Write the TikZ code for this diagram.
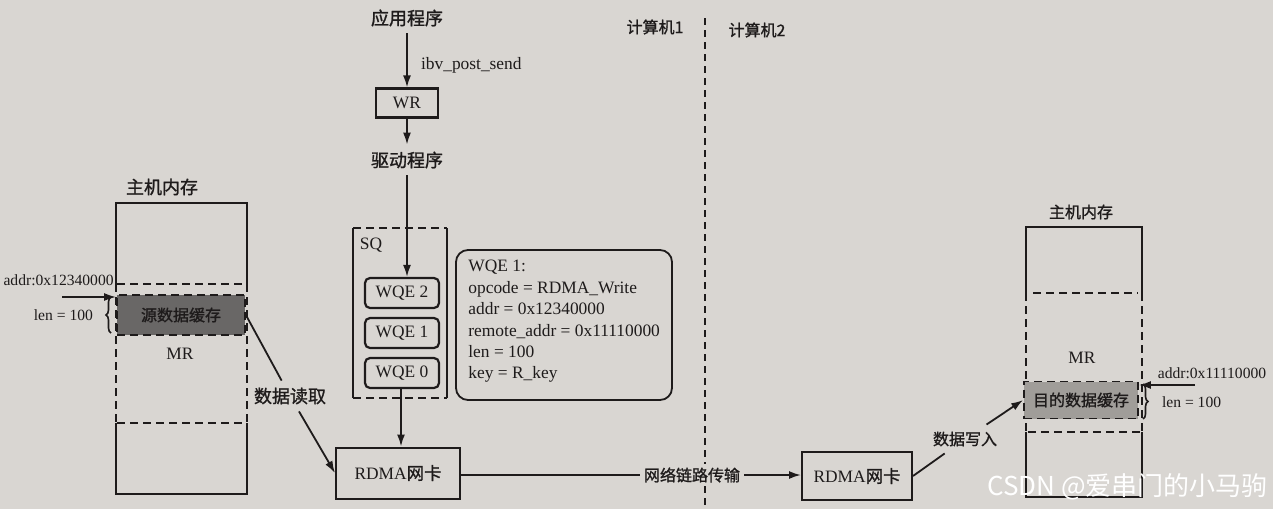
\documentclass[tikz,border=0pt]{standalone}
\usepackage{fontspec}
\setmainfont{Liberation Serif}
\newfontfamily\cjk{Noto Sans CJK SC}[FakeBold=1.2]
\newfontfamily\wmfont{Noto Sans CJK SC}
\usetikzlibrary{arrows.meta,decorations.pathreplacing}
\definecolor{paper}{RGB}{217,214,210}
\definecolor{ink}{RGB}{30,27,27}
\definecolor{darkfill}{RGB}{105,103,102}
\definecolor{lightfill}{RGB}{160,157,153}
\begin{document}
\begin{tikzpicture}[x=0.5pt,y=-0.5pt,
  every node/.style={text=ink,font=\fontsize{8.7}{10}\selectfont},
  cn/.style={font=\cjk\fontsize{9}{10}\selectfont},
  cns/.style={font=\cjk\fontsize{8}{9}\selectfont},
  lbl/.style={font=\fontsize{7.8}{9}\selectfont},
  ln/.style={draw=ink,line width=0.9pt},
  arr/.style={ln,-{Latex[length=6pt,width=4pt]}},
  box/.style={draw=ink,line width=1.1pt,inner sep=0pt},
  dsh/.style={ln,dash pattern=on 4pt off 2.5pt},
  brc/.style={draw=ink,line width=0.8pt,decorate,decoration={brace,amplitude=2.5pt}}]
\path[use as bounding box,fill=paper] (0,0) rectangle (1273,509);

% divider and computer labels
\draw[ink,line width=1pt,dash pattern=on 3.5pt off 2.5pt] (705,18) -- (705,509);
\node[cns] (pc1) at (655,27) {计算机1};
\node[cns] (pc2) at (757,30) {计算机2};

% top chain
\node[cn] (app) at (407,18) {应用程序};
\node[box,minimum width=31pt,minimum height=14.5pt] (wr) at (407,103) {WR};
\node[cn] (drv) at (407,160) {驱动程序};
\draw[arr] (app) -- (wr);
\node[anchor=west] (ibv) at (414,65) {ibv\_post\_send};
\draw[arr] (wr) -- (drv);

% SQ
\coordinate (sqtl) at (353,228);
\coordinate (sqtr) at (447,228);
\coordinate (sqbl) at (353,398);
\coordinate (sqbr) at (447,398);
\draw[ln,line width=1.1pt] (sqtl) -- (sqbl);
\draw[ln,line width=1.1pt] (sqtr) -- (sqbr);
\draw[dsh,line width=1.1pt] (sqtl) -- (sqtr);
\draw[dsh,line width=1.1pt] (sqbl) -- (sqbr);
\node (sq) at (371,245) {SQ};
\node[box,rounded corners=2.5pt,minimum width=37pt,minimum height=15pt] (wqe2) at (402,293) {WQE 2};
\node[box,rounded corners=2.5pt,minimum width=37pt,minimum height=15pt] (wqe1) at (402,333) {WQE 1};
\node[box,rounded corners=2.5pt,minimum width=37pt,minimum height=15pt] (wqe0) at (402,373) {WQE 0};
\draw[arr] (drv.south) -- (drv.south |- wqe2.north);

% WQE info
\node[draw=ink,line width=0.9pt,rounded corners=6pt,minimum width=108pt,minimum height=75pt] (info) at (564,325) {};
\node[anchor=north west,align=left,inner sep=0pt,font=\fontsize{8.7}{10.7}\selectfont] (infot) at (468,260)
 {WQE 1:\\ opcode = RDMA\_Write\\ addr = 0x12340000\\ remote\_addr = 0x11110000\\ len = 100\\ key = R\_key};

% NICs and link
\node[box,line width=1pt,minimum width=62pt,minimum height=25.5pt] (lnic) at (398,473) {RDMA{\cjk 网卡}};
\node[box,line width=1pt,minimum width=55pt,minimum height=24pt] (rnic) at (857,476) {RDMA{\cjk 网卡}};
\draw[arr] (wqe0.south -| 401,0) -- (lnic.north -| 401,0);
\node[cns,fill=paper,inner sep=2pt] (net) at (692,475) {网络链路传输};
\draw[ln] (lnic.east |- net) -- (net.west);
\draw[arr] (net.east) -- (rnic.west |- net);

% left memory
\node[cn] (lmemt) at (162,187) {主机内存};
\draw[ln,line width=1.1pt] (116,284) -- (116,203) -- (247,203) -- (247,284);
\draw[ln,line width=1.1pt] (116,423) -- (116,494) -- (247,494) -- (247,423);
\draw[dsh] (116,284) -- (116,423);
\draw[dsh] (247,284) -- (247,423);
\draw[dsh] (117,284) -- (246,284);
\draw[dsh] (117,423) -- (246,423);
\node[draw=ink,line width=0.9pt,dash pattern=on 4pt off 2.5pt,fill=darkfill,minimum width=64pt,minimum height=20pt,inner sep=0pt,cns] (src) at (181,315) {源数据缓存};
\node (lmr) at (180,354) {MR};
\node[lbl,anchor=east,inner sep=1pt] (laddr) at (116,280) {addr:0x12340000};
\coordinate (lin) at (62,297);
\draw[arr] (lin) -- (src.west |- lin);
\draw[brc] (111,333) -- (111,297);
\node[lbl,anchor=east] (llen) at (100,315) {len = 100};
\node[cn] (dr) at (290,396) {数据读取};
\draw[ln] (src.east) -- (dr);
\draw[arr] (dr) -- (lnic.west);

% right memory
\node[cns] (rmemt) at (1081,212) {主机内存};
\draw[ln] (1026,293) -- (1026,227) -- (1142,227) -- (1142,293);
\draw[ln] (1026,432) -- (1026,497) -- (1142,497) -- (1142,432);
\draw[dsh] (1026,293) -- (1026,432);
\draw[dsh] (1142,293) -- (1142,432);
\draw[dsh] (1033,293) -- (1138,293);
\draw[dsh] (1028,432) -- (1140,432);
\node[draw=ink,line width=0.9pt,dash pattern=on 4pt off 2.5pt,fill=lightfill,minimum width=57pt,minimum height=18.5pt,inner sep=0pt,cns] (dst) at (1081,400) {目的数据缓存};
\node (rmr) at (1082,358) {MR};
\node[lbl] (raddr) at (1212,373) {addr:0x11110000};
\coordinate (rin) at (1195,385);
\draw[arr] (rin) -- (dst.east |- rin);
\draw[brc] (1143,384) -- (1143,419);
\node[lbl,anchor=west] (rlen) at (1155,402) {len = 100};
\node[cns] (dw) at (965,439) {数据写入};
\draw[ln] (rnic.east) -- (dw);
\draw[arr] (dw) -- (dst.west);

% watermark
\node[anchor=east,text=white,font=\wmfont\fontsize{13}{14}\selectfont,inner sep=0pt] (wm) at (1268,487) {CSDN @爱串门的小马驹};
\end{tikzpicture}
\end{document}
